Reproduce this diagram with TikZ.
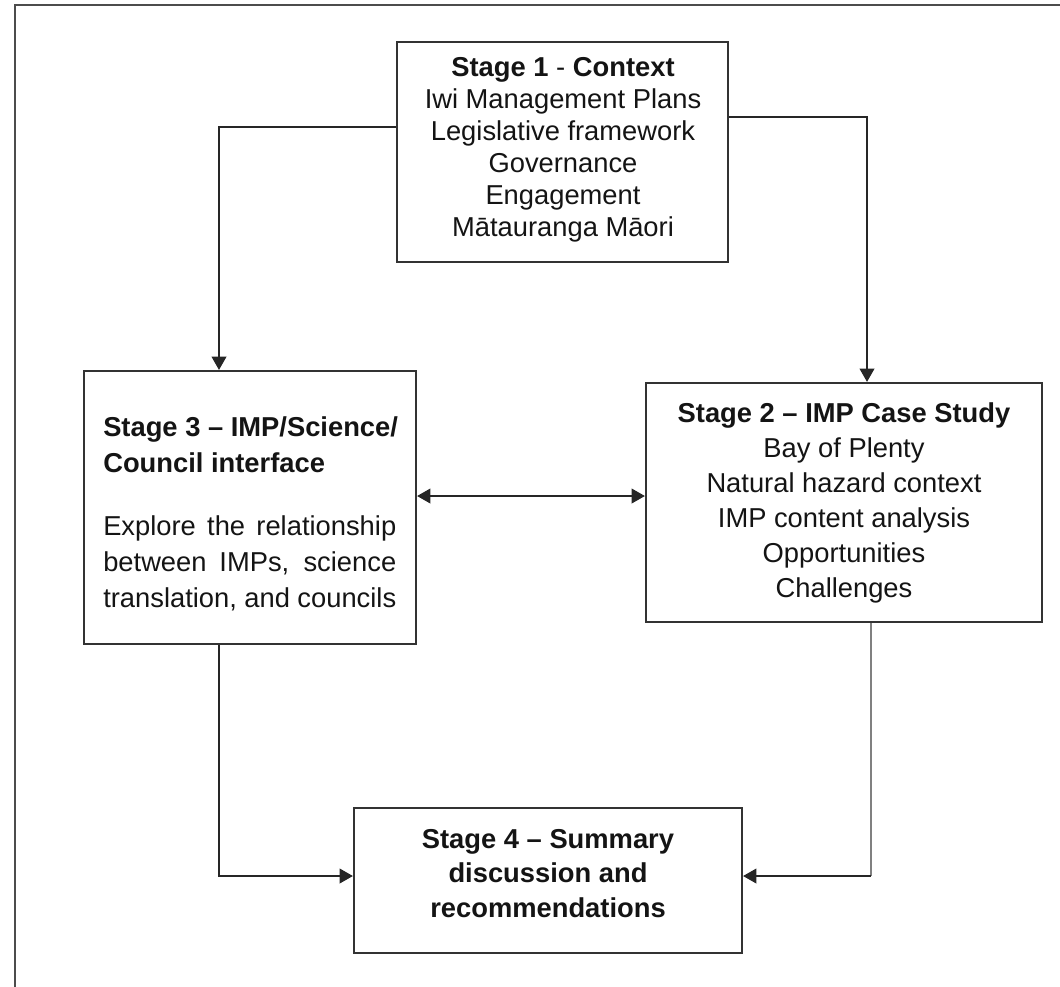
\documentclass[tikz,border=0pt]{standalone}
\usepackage{fontspec}
\setmainfont{Liberation Sans}
\usetikzlibrary{arrows.meta}
\begin{document}
\begin{tikzpicture}[x=0.75pt,y=-0.75pt,
  stagebox/.style={draw=black!80, line width=1.6pt, rectangle, inner sep=0pt},
  conn/.style={draw=black!85, line width=1.4pt},
  tip/.tip={Triangle[length=10pt,width=11pt]},
  arr/.style={conn, -tip},
  darr/.style={conn, tip-tip},
  txt/.style={inner sep=0pt, text=black!92}]
\useasboundingbox (0,0) rectangle (1060,986);
% outer frame (only top and left visible)
\draw[line width=1.8pt, black!70] (15,990) -- (15,5) -- (1065,5);

% boxes
\node[stagebox, minimum width=248.25pt, minimum height=165pt] (s1) at (562.5,152) {};
\node[stagebox, minimum width=297pt, minimum height=179.25pt] (s2) at (844,502.5) {};
\node[stagebox, minimum width=249pt, minimum height=204.75pt] (s3) at (250,507.5) {};
\node[stagebox, minimum width=291pt, minimum height=108.75pt] (s4) at (548,880.5) {};

% texts
\node[txt, align=center, font=\fontsize{20.5}{24}\selectfont] (t1) at (563,150)
  {\textbf{Stage 1} - \textbf{Context}\\Iwi Management Plans\\Legislative framework\\Governance\\Engagement\\Mātauranga Māori};
\node[txt, align=center, font=\fontsize{20.5}{26.25}\selectfont] (t2) at (844,502.5)
  {\textbf{Stage 2 – IMP Case Study}\\Bay of Plenty\\Natural hazard context\\IMP content analysis\\Opportunities\\Challenges};
\node[txt, align=left, anchor=west, font=\fontsize{20.5}{27}\selectfont\bfseries] (t3a) at (103,445)
  {Stage 3 – IMP/Science/\\Council interface};
\node[txt, align=left, anchor=west, font=\fontsize{20.5}{27}\selectfont] (t3b) at (103,563)
  {\makebox[219.75pt][s]{Explore the relationship}\\\makebox[219.75pt][s]{between IMPs, science}\\\makebox[219.75pt][s]{translation, and councils}};
\node[txt, align=center, font=\fontsize{20.5}{25.9}\selectfont\bfseries] (t4) at (548,873.5)
  {Stage 4 – Summary\\discussion and\\recommendations};

% connectors
\coordinate (c1) at (219,127);
\coordinate (c2) at (867,117);
\coordinate (c3) at (219,876);
\coordinate (c4) at (871,876);
\coordinate (c5) at (0,496);
\draw[arr] (s1.west |- c1) -- (c1) -- (c1 |- s3.north);
\draw[arr] (s1.east |- c2) -- (c2) -- (c2 |- s2.north);
\draw[darr] (s3.east |- c5) -- (s2.west |- c5);
\draw[arr] (c3 |- s3.south) -- (c3) -- (s4.west |- c3);
\draw[conn, draw=black!50, line width=1.1pt] (c4 |- s2.south) -- (c4);
\draw[arr] (c4) -- (s4.east |- c4);
\end{tikzpicture}
\end{document}
